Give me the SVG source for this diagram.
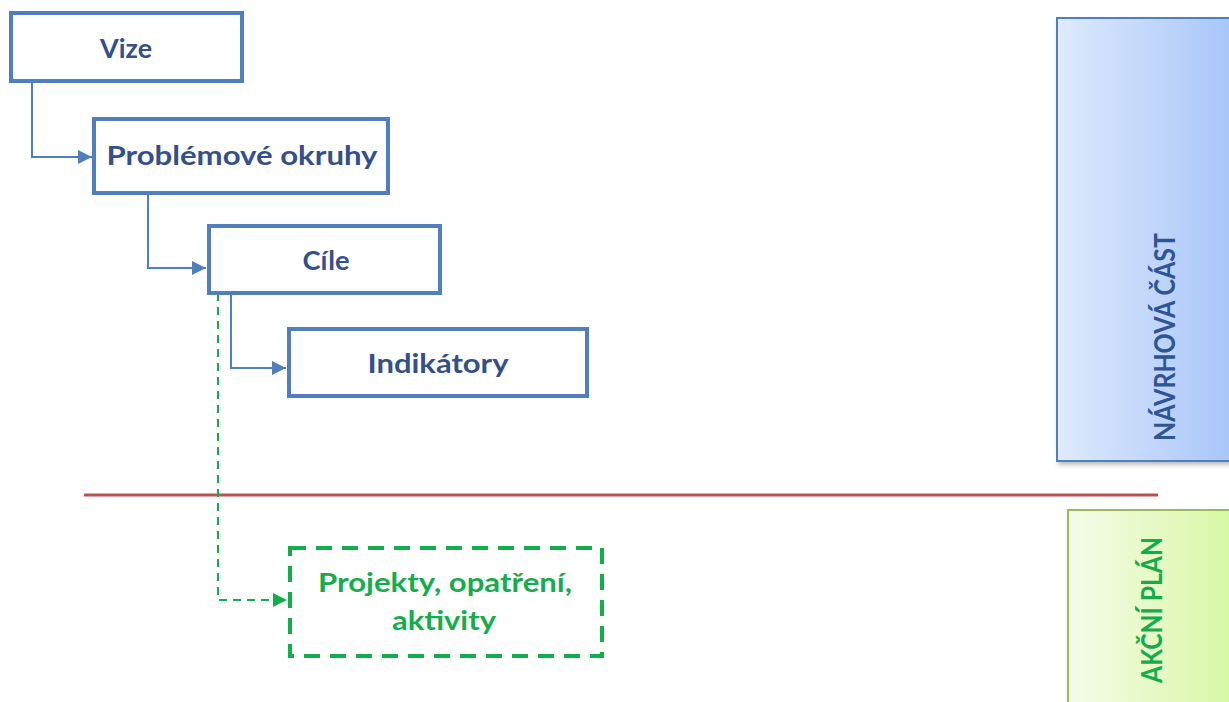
<svg xmlns="http://www.w3.org/2000/svg" width="1229" height="702" viewBox="0 0 1229 702">
  <defs>
    <linearGradient id="gBlue" x1="0" y1="0" x2="1" y2="0">
      <stop offset="0" stop-color="#DFEAFD"/>
      <stop offset="1" stop-color="#A7C5F9"/>
    </linearGradient>
    <linearGradient id="gGreen" x1="0" y1="0" x2="1" y2="0">
      <stop offset="0" stop-color="#F5FCEA"/>
      <stop offset="1" stop-color="#D7F7A2"/>
    </linearGradient>
    <filter id="shadow" x="-10%" y="-10%" width="130%" height="130%">
      <feDropShadow dx="2" dy="3" stdDeviation="2" flood-color="#000" flood-opacity="0.25"/>
    </filter>
    <marker id="arrBlue" viewBox="0 0 10 10" refX="10" refY="5" markerWidth="14" markerHeight="14" markerUnits="userSpaceOnUse" orient="auto">
      <path d="M0,0 L10,5 L0,10 z" fill="#4F7FBF"/>
    </marker>
    <marker id="arrGreen" viewBox="0 0 10 10" refX="10" refY="5" markerWidth="14" markerHeight="14" markerUnits="userSpaceOnUse" orient="auto">
      <path d="M0,0 L10,5 L0,10 z" fill="#12AE4C"/>
    </marker>
  </defs>
  <style>
    .box { fill: #FFFFFF; stroke: #4F7FBF; stroke-width: 4; }
    .lbl { font-family: Lato, "Open Sans", "Liberation Sans", sans-serif; font-weight: bold; font-size: 27px; fill: #34508A; text-anchor: middle; }
    .glbl { font-family: Lato, "Open Sans", "Liberation Sans", sans-serif; font-weight: bold; font-size: 26px; fill: #12AE4C; text-anchor: middle; }
    .conn { fill: none; stroke: #4F7FBF; stroke-width: 2; }
    .dconn { fill: none; stroke: #12AE4C; stroke-width: 2; stroke-dasharray: 8 6; }
    .side { font-family: Lato, "Open Sans", "Liberation Sans", sans-serif; font-weight: bold; font-size: 28px; text-anchor: middle; }
  </style>
  <rect width="1229" height="702" fill="#FFFFFF"/>

  <g id="navrhova-cast">
    <rect x="1057" y="18" width="180" height="443" fill="url(#gBlue)" stroke="#4F7FBF" stroke-width="2" filter="url(#shadow)"/>
    <text class="side" transform="translate(1175,337) rotate(-90)" fill="#2F5597" textLength="208" lengthAdjust="spacingAndGlyphs">NÁVRHOVÁ ČÁST</text>
  </g>
  <g id="akcni-plan">
    <rect x="1068" y="510" width="170" height="200" fill="url(#gGreen)" stroke="#9BBB59" stroke-width="2" filter="url(#shadow)"/>
    <text class="side" transform="translate(1162,610) rotate(-90)" fill="#12AE4C" textLength="146" lengthAdjust="spacingAndGlyphs">AKČNÍ PLÁN</text>
  </g>

  <g id="divider">
    <line x1="84" y1="495" x2="1158" y2="495" stroke="#C0504D" stroke-width="3"/>
  </g>

  <g id="connectors">
    <path class="conn" d="M32,81 V157 H92" marker-end="url(#arrBlue)"/>
    <path class="conn" d="M148,193 V268 H206" marker-end="url(#arrBlue)"/>
    <path class="conn" d="M231,293 V368 H286" marker-end="url(#arrBlue)"/>
    <path class="dconn" d="M218,293 V600 H287" marker-end="url(#arrGreen)"/>
  </g>

  <g id="vize">
    <rect class="box" x="11" y="13" width="231" height="68"/>
    <text class="lbl" x="126" y="58" textLength="52" lengthAdjust="spacingAndGlyphs">Vize</text>
  </g>
  <g id="problemove-okruhy">
    <rect class="box" x="94" y="119" width="294" height="74"/>
    <text class="lbl" x="242" y="165" textLength="271" lengthAdjust="spacingAndGlyphs">Problémové okruhy</text>
  </g>
  <g id="cile">
    <rect class="box" x="209" y="226" width="231" height="67"/>
    <text class="lbl" x="326" y="270" textLength="47" lengthAdjust="spacingAndGlyphs">Cíle</text>
  </g>
  <g id="indikatory">
    <rect class="box" x="289" y="329" width="298" height="67"/>
    <text class="lbl" x="438" y="373" textLength="141" lengthAdjust="spacingAndGlyphs">Indikátory</text>
  </g>
  <g id="projekty">
    <rect x="290" y="548" width="312" height="108" fill="#FFFFFF" stroke="#12AE4C" stroke-width="4" stroke-dasharray="16 10"/>
    <text class="glbl" x="445" y="592" textLength="254" lengthAdjust="spacingAndGlyphs">Projekty, opatření,</text>
    <text class="glbl" x="444" y="630" textLength="104" lengthAdjust="spacingAndGlyphs">aktivity</text>
  </g>
</svg>
